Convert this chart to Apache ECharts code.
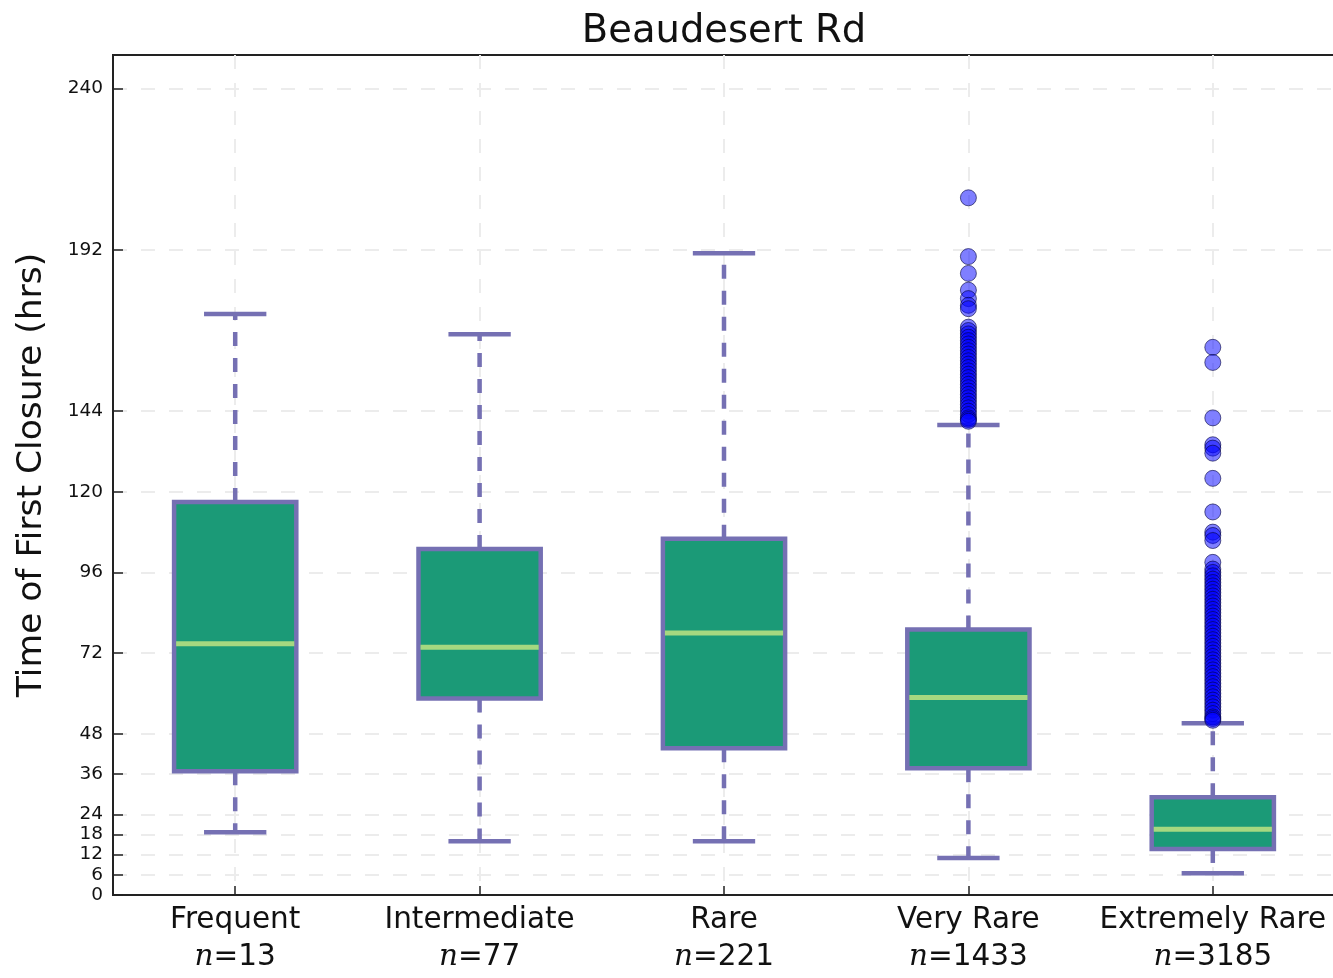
<!DOCTYPE html>
<html>
<head>
<meta charset="utf-8">
<script src="https://cdn.jsdelivr.net/npm/echarts@6/dist/echarts.min.js"></script>
<style>
html,body{margin:0;padding:0;background:#fff;}
#chart{width:1333px;height:978px;}
</style>
</head>
<body>
<div id="chart"></div>
<script>
// ---- data ----
var categories = ['Frequent', 'Intermediate', 'Rare', 'Very Rare', 'Extremely Rare'];
var counts = [13, 77, 221, 1433, 3185];
var whiskerLow = [18.7, 16, 16, 11, 6.5];
var q1 = [36.8, 58.5, 43.7, 37.7, 13.7];
var medians = [74.8, 73.7, 78, 58.8, 19.6];
var q3 = [117, 103, 106, 79, 29.1];
var whiskerHigh = [172.9, 166.9, 191, 139.9, 51.1];
var outliersVeryRare = [207.5, 190, 185, 180, 177.5, 175.5, 174.5, 169, 168, 167, 166, 165, 164, 163, 162, 161, 160, 159, 158, 157, 156, 155, 154, 153, 152, 151, 150, 149, 148, 147, 146, 145, 144, 143, 142, 141.5, 141];
var outliersExtRare = [163, 158.5, 142, 134, 133, 131.5, 124, 114, 108, 107, 105.5, 99, 97, 96, 95, 94, 93, 92, 91, 90, 89, 88, 87, 86, 85, 84, 83, 82, 81, 80, 79, 78, 77, 76, 75, 74, 73, 72, 71, 70, 69, 68, 67, 66, 65, 64, 63, 62, 61, 60, 59, 58, 57, 56, 55, 54, 53, 52.5, 52];
var yTicks = [0, 6, 12, 18, 24, 36, 48, 72, 96, 120, 144, 192, 240];
var xTicks = [0, 1, 2, 3, 4];

// ---- build ----
var boxData = categories.map(function (c, i) {
  return [i, whiskerLow[i], q1[i], medians[i], q3[i], whiskerHigh[i]];
});
var outlierData = [];
outliersVeryRare.forEach(function (v) { outlierData.push([3, v]); });
outliersExtRare.forEach(function (v) { outlierData.push([4, v]); });

var purple = '#7570b3';
var gridColor = '#ececec';

function renderBox(params, api) {
  var x = api.value(0);
  var lo = api.coord([x, api.value(1)]);
  var b1 = api.coord([x, api.value(2)]);
  var md = api.coord([x, api.value(3)]);
  var b3 = api.coord([x, api.value(4)]);
  var hi = api.coord([x, api.value(5)]);
  var unit = api.size([1, 0])[0];
  var bw = unit * 0.5;
  var cw = unit * 0.255;
  var cx = lo[0];
  var dashStyle = {stroke: purple, lineWidth: 4.5, lineDash: [14, 12]};
  return {
    type: 'group',
    children: [
      {type: 'line', shape: {x1: cx, y1: b3[1], x2: cx, y2: hi[1]}, style: dashStyle},
      {type: 'line', shape: {x1: cx, y1: b1[1], x2: cx, y2: lo[1]}, style: dashStyle},
      {type: 'line', shape: {x1: cx - cw / 2, y1: hi[1], x2: cx + cw / 2, y2: hi[1]}, style: {stroke: purple, lineWidth: 4.5}},
      {type: 'line', shape: {x1: cx - cw / 2, y1: lo[1], x2: cx + cw / 2, y2: lo[1]}, style: {stroke: purple, lineWidth: 4.5}},
      {type: 'rect', shape: {x: cx - bw / 2, y: b3[1], width: bw, height: b1[1] - b3[1]},
        style: {fill: '#1b9a77', stroke: purple, lineWidth: 4.5}},
      {type: 'line', shape: {x1: cx - bw / 2 + 2, y1: md[1], x2: cx + bw / 2 - 2, y2: md[1]},
        style: {stroke: '#a6d880', lineWidth: 5}}
    ]
  };
}

var chart = echarts.init(document.getElementById('chart'), null, {renderer: 'canvas'});
chart.setOption({
  backgroundColor: '#ffffff',
  animation: false,
  title: {
    text: 'Beaudesert Rd',
    left: 719, top: 7, textAlign: 'center',
    textStyle: {fontFamily: 'DejaVu Sans', fontSize: 38.5, fontWeight: 'normal', color: '#111'}
  },
  grid: {
    left: 113, top: 55, right: -2, bottom: 83,
    show: true, borderColor: '#222', borderWidth: 2, backgroundColor: 'transparent',
    outerBoundsMode: 'none', containLabel: false
  },
  xAxis: {
    type: 'value', min: -0.5, max: 4.5,
    axisLine: {show: true, onZero: false, lineStyle: {color: '#222', width: 2}},
    axisTick: {show: true, inside: true, length: 9, customValues: xTicks, lineStyle: {color: '#222', width: 1.5}},
    axisLabel: {
      customValues: xTicks, margin: 7,
      formatter: function (v) {
        var i = Math.round(v);
        return '{a|' + categories[i] + '}\n{n|n}{b|=' + counts[i] + '}';
      },
      rich: {
        a: {fontFamily: 'DejaVu Sans', fontSize: 29.5, color: '#111', lineHeight: 37},
        n: {fontFamily: 'DejaVu Serif', fontStyle: 'italic', fontSize: 29.5, color: '#111', lineHeight: 37},
        b: {fontFamily: 'DejaVu Sans', fontSize: 29.5, color: '#111', lineHeight: 37}
      }
    },
    splitLine: {show: true, lineStyle: {color: gridColor, width: 2, type: [14, 14]}}
  },
  yAxis: {
    type: 'value', min: 0, max: 250,
    name: 'Time of First Closure (hrs)',
    nameLocation: 'middle', nameGap: 63, nameRotate: 90,
    nameTextStyle: {fontFamily: 'DejaVu Sans', fontSize: 34.5, color: '#111'},
    axisLine: {show: true, onZero: false, lineStyle: {color: '#222', width: 2}},
    axisTick: {show: true, inside: true, length: 10, customValues: yTicks, lineStyle: {color: '#222', width: 1.5}},
    axisLabel: {customValues: yTicks, margin: 10, fontFamily: 'DejaVu Sans', fontSize: 18.5, color: '#111'},
    splitLine: {show: true, lineStyle: {color: gridColor, width: 2, type: [14, 14]}}
  },
  series: [
    {
      type: 'custom',
      renderItem: renderBox,
      data: boxData,
      encode: {x: 0, y: [1, 2, 3, 4, 5]},
      z: 2
    },
    {
      type: 'scatter',
      data: outlierData,
      symbol: 'circle',
      symbolSize: 16,
      itemStyle: {color: 'rgba(0,0,255,0.5)', borderColor: 'rgba(0,0,60,0.6)', borderWidth: 1, opacity: 1},
      z: 3
    }
  ]
});
</script>
</body>
</html>
